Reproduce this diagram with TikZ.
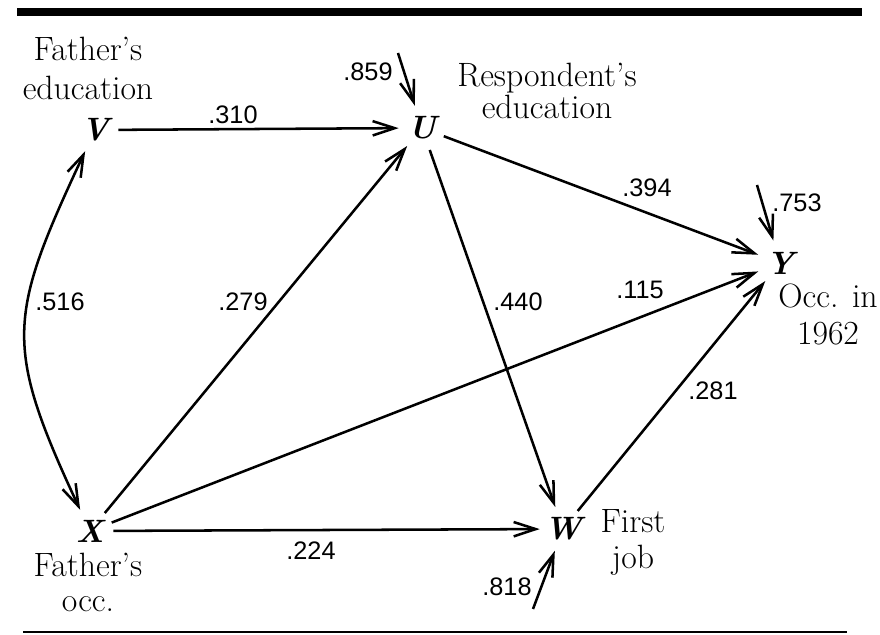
\documentclass[tikz,border=0pt]{standalone}
\usepackage{fontspec}
\setsansfont{Liberation Sans}
\usetikzlibrary{arrows.meta}

\tikzset{
  >={Straight Barb[length=5.5mm,width=3.6mm]},
  var/.style={circle, minimum size=1.15cm, inner sep=0pt,
    font=\fontsize{23}{26}\selectfont\bfseries\itshape},
  txt/.style={align=center, inner sep=0pt},
  coef/.style={inner sep=0pt, font=\sffamily\fontsize{18}{21}\selectfont},
  link/.style={->, line width=1.8pt},
}

\begin{document}
\begin{tikzpicture}
\useasboundingbox (0,0) rectangle (22,15.85);
\draw[line width=5pt] (0.425,15.55) -- (21.55,15.55);
\draw[line width=1.2pt] (0.575,0.05) -- (21.175,0.05);

% variables
\node[var] (V) at (2.375,12.6) {V};
\node[var] (U) at (10.55,12.65) {U};
\node[var] (Y) at (19.5,9.275) {Y};
\node[var] (X) at (2.25,2.575) {X};
\node[var] (W) at (14.075,2.625) {W};

% names of the variables
\node[txt, font=\fontsize{24}{28}\selectfont] (Vname) at (2.2,14.14) {Father's\\education};
\node[txt, font=\fontsize{24}{21}\selectfont] (Uname) at (13.675,13.58) {Respondent's\\education};
\node[txt, font=\fontsize{24}{26}\selectfont] (Yname) at (20.7,7.99) {Occ. in\\1962};
\node[txt, font=\fontsize{24}{25}\selectfont] (Wname) at (15.825,2.29) {First\\job};
\node[txt, font=\fontsize{24}{25}\selectfont] (Xname) at (2.2,1.29) {Father's\\occ.};

% paths
\draw[link] (V) -- (U);
\draw[link] (U) -- (Y);
\draw[link] (U) -- (W);
\draw[link] (X) -- (U);
\draw[link] (X) -- (Y);
\draw[link] (X) -- (W);
\draw[link] (W) -- (Y);
\draw[link, <->] (V) to[out=245, in=115, looseness=1.3] (X);

% residuals
\coordinate (eU) at (9.95,14.525);
\coordinate (eY) at (18.925,11.225);
\coordinate (eW) at (13.325,0.625);
\draw[link] (eU) -- (U);
\draw[link] (eY) -- (Y);
\draw[link] (eW) -- (W);

% coefficients
\node[coef] (pVU) at (5.825,12.975) {.310};
\node[coef] (pU) at (9.2,14.05) {.859};
\node[coef] (pUY) at (16.175,11.15) {.394};
\node[coef] (pY) at (19.925,10.775) {.753};
\node[coef] (rVX) at (1.5,8.3) {.516};
\node[coef] (pXU) at (6.075,8.3) {.279};
\node[coef] (pUW) at (12.95,8.3) {.440};
\node[coef] (pXY) at (16.0,8.6) {.115};
\node[coef] (pWY) at (17.825,6.075) {.281};
\node[coef] (pXW) at (7.775,2.075) {.224};
\node[coef] (pW) at (12.675,1.175) {.818};
\end{tikzpicture}
\end{document}
